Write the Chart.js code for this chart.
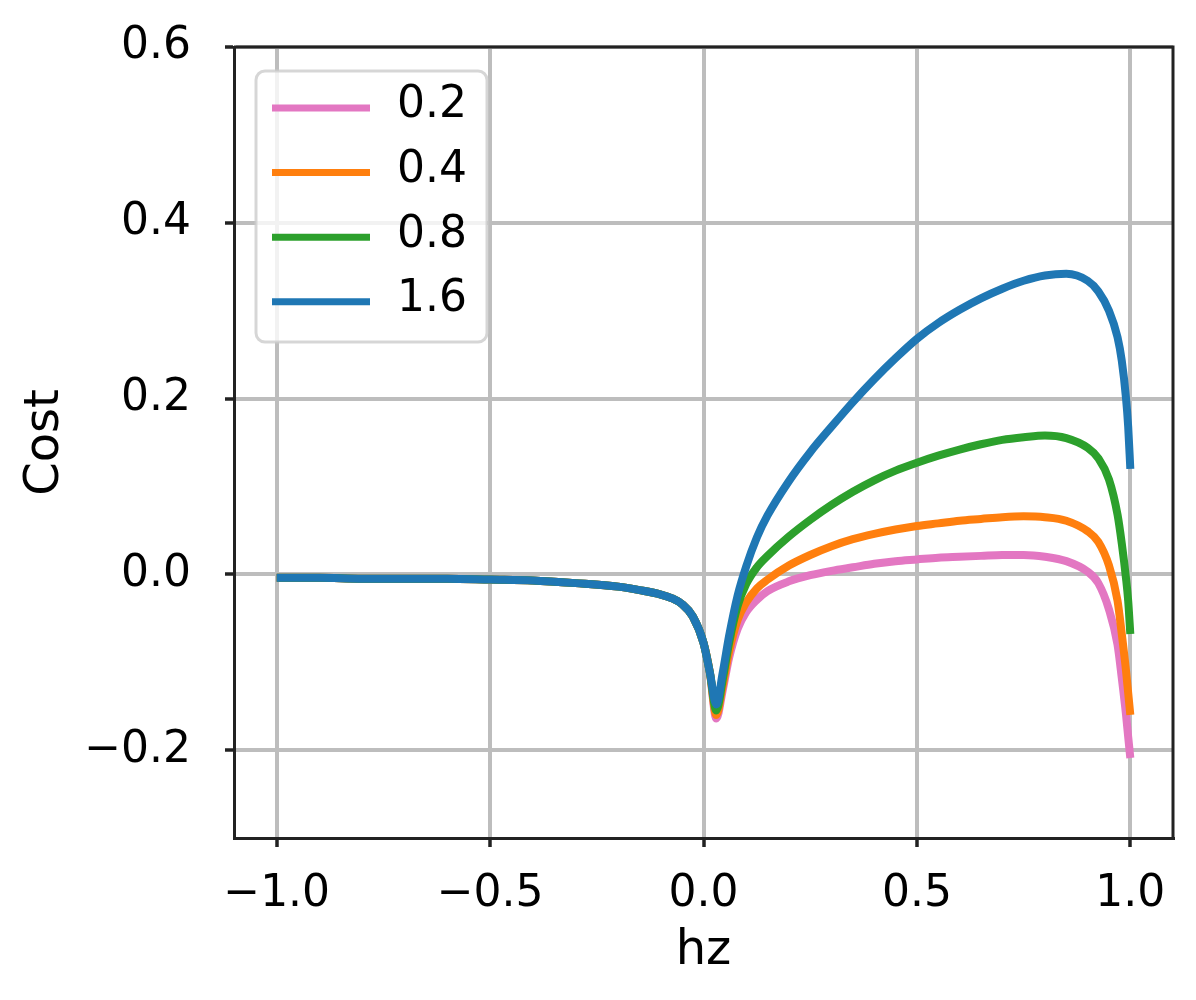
<!DOCTYPE html>
<html>
<head>
<meta charset="utf-8">
<script src="https://cdn.jsdelivr.net/npm/chart.js@4.4.1/dist/chart.umd.min.js"></script>
<style>
    html, body { margin: 0; padding: 0; background: #fff; }
    #wrap { width: 1196px; height: 1000px; }
</style>
</head>
<body>
<div id="wrap"><canvas id="chart" width="1196" height="1000"></canvas></div>
<script>
// x positions (hz) and the cost curves
const hz = [-1.0, -0.9, -0.8, -0.7, -0.6, -0.5, -0.4, -0.3, -0.2, -0.15, -0.1, -0.075, -0.05, -0.025, 0.0, 0.015,
    0.03, 0.045, 0.06, 0.08, 0.1, 0.125, 0.15, 0.2, 0.25, 0.3, 0.35, 0.4, 0.45, 0.5, 0.55,
    0.6, 0.65, 0.7, 0.75, 0.8, 0.85, 0.9, 0.925, 0.95, 0.97, 0.98, 0.99, 0.995, 1.0];

const cost02 = [-0.004, -0.004, -0.005, -0.005, -0.005, -0.006, -0.007, -0.010, -0.014, -0.018, -0.023, -0.027, -0.034, -0.048, -0.078, -0.112,
    -0.164, -0.132, -0.095, -0.062, -0.043, -0.029, -0.019, -0.008, -0.001, 0.004, 0.008, 0.012, 0.015, 0.017, 0.019,
    0.020, 0.021, 0.022, 0.022, 0.020, 0.015, 0.003, -0.010, -0.040, -0.080, -0.118, -0.160, -0.185, -0.209];

const cost04 = [-0.004, -0.004, -0.005, -0.005, -0.005, -0.006, -0.007, -0.010, -0.014, -0.018, -0.023, -0.027, -0.034, -0.048, -0.078, -0.112,
    -0.160, -0.127, -0.088, -0.052, -0.032, -0.016, -0.006, 0.010, 0.022, 0.032, 0.040, 0.046, 0.051, 0.055, 0.058,
    0.061, 0.063, 0.065, 0.066, 0.065, 0.061, 0.049, 0.037, 0.010, -0.030, -0.068, -0.110, -0.135, -0.160];

const cost08 = [-0.004, -0.004, -0.005, -0.005, -0.005, -0.006, -0.007, -0.010, -0.014, -0.018, -0.023, -0.027, -0.034, -0.048, -0.078, -0.112,
    -0.155, -0.120, -0.078, -0.036, -0.011, 0.008, 0.021, 0.043, 0.062, 0.079, 0.094, 0.107, 0.118, 0.127, 0.135,
    0.142, 0.148, 0.153, 0.156, 0.158, 0.155, 0.144, 0.132, 0.108, 0.068, 0.035, -0.005, -0.030, -0.068];

const cost16 = [-0.004, -0.004, -0.005, -0.005, -0.005, -0.006, -0.007, -0.010, -0.014, -0.018, -0.023, -0.027, -0.034, -0.048, -0.078, -0.112,
    -0.148, -0.112, -0.070, -0.024, 0.009, 0.042, 0.067, 0.106, 0.139, 0.168, 0.196, 0.222, 0.246, 0.268, 0.286,
    0.301, 0.314, 0.325, 0.334, 0.340, 0.342, 0.334, 0.322, 0.300, 0.270, 0.243, 0.200, 0.168, 0.120];

const seriesLabels = ['0.2', '0.4', '0.8', '1.6'];
const seriesValues = [cost02, cost04, cost08, cost16];
const seriesColors = ['#e377c2', '#ff7f0e', '#2ca02c', '#1f77b4'];

const xTicks = [-1.0, -0.5, 0.0, 0.5, 1.0];
const yTicks = [-0.2, 0.0, 0.2, 0.4, 0.6];

const FONT = 'DejaVu Sans';
const SPINE = '#222222';
const GRID = '#bdbdbd';

// matplotlib style labels: one decimal, real minus sign
function fmt(v) {
    return Number(v).toFixed(1).replace('-', '\u2212');
}

// top and right spines
const framePlugin = {
    id: 'frame',
    afterDatasetsDraw(chart) {
        const { ctx, chartArea: a } = chart;
        ctx.save();
        ctx.strokeStyle = SPINE;
        ctx.lineWidth = 3;
        ctx.beginPath();
        ctx.moveTo(a.left, a.top);
        ctx.lineTo(a.right, a.top);
        ctx.lineTo(a.right, a.bottom);
        ctx.stroke();
        ctx.restore();
    }
};

// legend box in the upper left, drawn over the lines like matplotlib does
const legendPlugin = {
    id: 'boxLegend',
    afterDraw(chart) {
        const { ctx, chartArea: a } = chart;
        const x0 = a.left + 22, y0 = a.top + 24, w = 231, h = 271, r = 9;
        ctx.save();
        ctx.beginPath();
        ctx.roundRect(x0, y0, w, h, r);
        ctx.fillStyle = 'rgba(255,255,255,0.8)';
        ctx.fill();
        ctx.lineWidth = 3;
        ctx.strokeStyle = 'rgba(204,204,204,0.8)';
        ctx.stroke();

        ctx.font = '44px "' + FONT + '"';
        ctx.textBaseline = 'middle';
        ctx.textAlign = 'left';
        chart.data.datasets.forEach(function(ds, i) {
            const ly = y0 + 37 + i * 64.6;
            ctx.beginPath();
            ctx.moveTo(x0 + 16, ly);
            ctx.lineTo(x0 + 114, ly);
            ctx.lineWidth = 7;
            ctx.strokeStyle = ds.borderColor;
            ctx.stroke();
            ctx.fillStyle = '#000';
            ctx.fillText(ds.label, x0 + 141, ly - 2);
        });
        ctx.restore();
    }
};

const datasets = seriesLabels.map(function(label, i) {
    return {
        label: label,
        data: hz.map(function(x, j) { return { x: x, y: seriesValues[i][j] }; }),
        borderColor: seriesColors[i],
        backgroundColor: seriesColors[i],
        borderWidth: 8,
        pointRadius: 0,
        cubicInterpolationMode: 'monotone',
        borderJoinStyle: 'round',
        fill: false,
        order: seriesLabels.length - i // blue (1.6) ends on top
    };
});

new Chart(document.getElementById('chart'), {
    type: 'line',
    data: { datasets: datasets },
    options: {
        responsive: false,
        animation: false,
        devicePixelRatio: 1,
        layout: { padding: { top: 47, right: 23, bottom: 0, left: 0 } },
        plugins: {
            legend: { display: false },
            tooltip: { enabled: false }
        },
        scales: {
            x: {
                type: 'linear',
                min: -1.1,
                max: 1.1,
                afterBuildTicks: function(scale) {
                    scale.ticks = xTicks.map(function(v) { return { value: v }; });
                },
                afterFit: function(scale) {
                    scale.height = 162;
                    scale.paddingLeft = 0;
                    scale.paddingRight = 0;
                },
                ticks: {
                    callback: function(value) { return fmt(value); },
                    color: '#000',
                    font: { family: FONT, size: 44 },
                    padding: 21,
                    maxRotation: 0,
                    autoSkip: false
                },
                grid: {
                    color: GRID,
                    lineWidth: 4,
                    tickLength: 9,
                    tickColor: SPINE,
                    tickWidth: 3.5
                },
                border: { display: true, color: SPINE, width: 3 },
                title: {
                    display: true,
                    text: 'hz',
                    color: '#000',
                    font: { family: FONT, size: 48 },
                    padding: { top: 0, bottom: 20 }
                }
            },
            y: {
                type: 'linear',
                min: -0.3,
                max: 0.6,
                afterBuildTicks: function(scale) {
                    scale.ticks = yTicks.map(function(v) { return { value: v }; });
                },
                afterFit: function(scale) {
                    scale.width = 234;
                    scale.paddingTop = 0;
                    scale.paddingBottom = 0;
                },
                ticks: {
                    callback: function(value) { return fmt(value); },
                    color: '#000',
                    font: { family: FONT, size: 44 },
                    padding: 34,
                    autoSkip: false
                },
                grid: {
                    color: GRID,
                    lineWidth: 4,
                    tickLength: 9,
                    tickColor: SPINE,
                    tickWidth: 3.5
                },
                border: { display: true, color: SPINE, width: 3 },
                title: {
                    display: true,
                    text: 'Cost',
                    color: '#000',
                    font: { family: FONT, size: 48 },
                    padding: { top: 17, bottom: 0 }
                }
            }
        }
    },
    plugins: [framePlugin, legendPlugin]
});
</script>
</body>
</html>
